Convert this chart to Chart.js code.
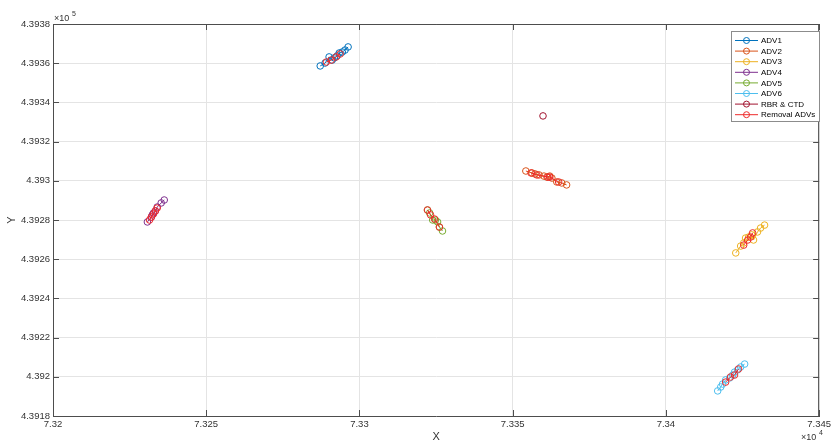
<!DOCTYPE html>
<html>
<head>
<meta charset="utf-8">
<script src="https://cdn.jsdelivr.net/npm/chart.js@4/dist/chart.umd.min.js"></script>
<style>
  body { margin: 0; background: #fff; }
  canvas { display: block; }
</style>
</head>
<body>
<canvas id="cha" width="834" height="441"></canvas>
<script>
// tick labels (values are shown divided by 1e4 / 1e5)
const xTickLabels = ['7.32', '7.325', '7.33', '7.335', '7.34', '7.345'];
const yTickLabels = ['4.3918', '4.392', '4.3922', '4.3924', '4.3926', '4.3928', '4.393', '4.3932', '4.3934', '4.3936', '4.3938'];

const seriesNames = ['ADV1', 'ADV2', 'ADV3', 'ADV4', 'ADV5', 'ADV6', 'RBR & CTD', 'Removal ADVs'];
const seriesColors = ['#0072BD', '#D95319', '#EDB120', '#7E2F8E', '#77AC30', '#4DBEEE', '#A2142F', '#EE2A2A'];

// [x, y] positions
const adv1 = [[73287.2, 439358.6], [73288.8, 439360.1], [73290.1, 439363.2], [73291.1, 439361.6], [73291.8, 439362.7],
  [73292.7, 439363.7], [73293.4, 439365.2], [73294.4, 439365.7], [73295.3, 439366.7], [73296.3, 439368.3]];
const adv2 = [[73354.3, 439305.0], [73356.3, 439304.0], [73357.3, 439303.5], [73358.6, 439303.0], [73360.2, 439302.4],
  [73361.2, 439301.9], [73362.1, 439302.4], [73362.8, 439301.4], [73364.4, 439299.4], [73366.0, 439298.9], [73367.6, 439297.9]];
const adv3 = [[73422.8, 439263.2], [73424.4, 439266.7], [73425.4, 439268.3], [73426.0, 439270.8], [73427.0, 439271.3],
  [73428.0, 439272.4], [73428.6, 439269.8], [73429.9, 439273.9], [73430.9, 439275.9], [73432.2, 439277.4]];
const adv4 = [[73230.8, 439279.0], [73232.1, 439281.5], [73232.4, 439282.6], [73232.8, 439283.6], [73233.4, 439284.6],
  [73234.0, 439286.6], [73235.3, 439288.7], [73236.3, 439290.2]];
const adv5 = [[73322.2, 439285.1], [73322.9, 439283.6], [73323.9, 439280.0], [73324.8, 439280.0], [73325.5, 439279.0],
  [73326.1, 439276.4], [73327.1, 439274.4]];
const adv6 = [[73416.9, 439192.8], [73417.9, 439194.8], [73418.5, 439196.3], [73419.5, 439198.4], [73420.8, 439199.4],
  [73421.8, 439200.9], [73422.4, 439202.4], [73423.4, 439203.5], [73424.4, 439205.0], [73425.7, 439206.5]];
const rbrCtd = [[73359.9, 439333.1]];
// null = break in the line between sites
const removalAdvs = [[73289.2, 439360.6], [73290.8, 439361.6], [73292.4, 439363.2], [73293.7, 439364.7], null,
  [73231.5, 439280.0], [73232.1, 439281.5], [73232.8, 439283.1], [73233.4, 439284.6], [73234.0, 439286.1], null,
  [73322.2, 439285.1], [73323.2, 439282.6], [73324.5, 439280.5], [73326.1, 439276.4], null,
  [73356.0, 439304.0], [73357.9, 439303.0], [73361.5, 439301.9], [73362.1, 439301.9], [73365.0, 439299.4], null,
  [73425.4, 439267.2], [73426.7, 439269.8], [73427.6, 439271.3], [73428.3, 439273.4], null,
  [73419.5, 439197.3], [73421.1, 439199.9], [73422.4, 439200.9], [73423.7, 439204.0]];

const seriesData = [adv1, adv2, adv3, adv4, adv5, adv6, rbrCtd, removalAdvs];

const toPoints = arr => arr.map(p => p ? { x: p[0], y: p[1] } : { x: null, y: null });

const datasets = seriesNames.map((name, i) => ({
  label: name,
  data: toPoints(seriesData[i]),
  showLine: true,
  spanGaps: false,
  borderColor: seriesColors[i],
  borderWidth: 1,
  pointRadius: 3.3,
  pointBorderWidth: 1,
  pointBackgroundColor: 'rgba(0,0,0,0)',
  pointBorderColor: seriesColors[i],
  order: i === 7 ? 1 : (i === 6 ? 2 : 10),
}));

const axisColor = '#4d4d4d';
const fontFam = '"Liberation Sans", Arial, Helvetica, sans-serif';

// frame, inward ticks, exponents and legend like matlab
const matlabBits = {
  id: 'matlabBits',
  afterDraw(chart) {
    const ctx = chart.ctx;
    const a = chart.chartArea;
    const xs = chart.scales.x, ys = chart.scales.y;
    ctx.save();
    ctx.strokeStyle = axisColor;
    ctx.lineWidth = 1;
    ctx.beginPath();
    ctx.moveTo(a.left, a.top + 0.5); ctx.lineTo(a.right, a.top + 0.5);
    ctx.moveTo(a.right - 0.5, a.top); ctx.lineTo(a.right - 0.5, a.bottom);
    xs.ticks.forEach(t => {
      const px = Math.round(xs.getPixelForValue(t.value)) + 0.5;
      ctx.moveTo(px, a.bottom); ctx.lineTo(px, a.bottom - 6);
      ctx.moveTo(px, a.top); ctx.lineTo(px, a.top + 6);
    });
    ys.ticks.forEach(t => {
      const py = Math.round(ys.getPixelForValue(t.value)) + 0.5;
      ctx.moveTo(a.left, py); ctx.lineTo(a.left + 6, py);
      ctx.moveTo(a.right, py); ctx.lineTo(a.right - 6, py);
    });
    ctx.stroke();

    // exponent labels
    ctx.fillStyle = '#333';
    ctx.textBaseline = 'alphabetic';
    ctx.textAlign = 'left';
    ctx.font = '9px ' + fontFam;
    ctx.fillText('\u00d710', a.left + 1, a.top - 3);
    ctx.fillText('\u00d710', a.right - 18, 441 - 1);
    ctx.font = '7px ' + fontFam;
    ctx.fillText('5', a.left + 19, a.top - 8);
    ctx.fillText('4', a.right, 441 - 6);

    // legend box
    const bx = 731.5, by = 31.5, bw = 88, bh = 90;
    ctx.fillStyle = '#fff';
    ctx.fillRect(bx, by, bw, bh);
    ctx.strokeStyle = '#8c8c8c';
    ctx.strokeRect(bx, by, bw, bh);
    ctx.font = '8px ' + fontFam;
    ctx.textBaseline = 'middle';
    seriesNames.forEach((name, i) => {
      const yy = 40.5 + i * 10.6;
      ctx.strokeStyle = seriesColors[i];
      ctx.beginPath();
      ctx.moveTo(735, yy); ctx.lineTo(758, yy);
      ctx.stroke();
      ctx.beginPath();
      ctx.arc(746.5, yy, 3, 0, Math.PI * 2);
      ctx.stroke();
      ctx.fillStyle = '#000';
      ctx.fillText(name, 761, yy + 0.5);
    });
    ctx.restore();
  }
};

const chart = new Chart(document.getElementById('cha'), {
  type: 'scatter',
  data: { datasets: datasets },
  plugins: [matlabBits],
  options: {
    responsive: false,
    animation: false,
    devicePixelRatio: 1,
    layout: { padding: { top: 24, right: 10, left: 0, bottom: 0 } },
    plugins: {
      legend: { display: false },
      tooltip: { enabled: false },
    },
    scales: {
      x: {
        type: 'linear',
        min: 73200,
        max: 73450,
        afterFit: s => { s.height = 25; },
        ticks: {
          stepSize: 50,
          maxRotation: 0,
          padding: 3,
          color: '#333',
          font: { size: 9.5, family: fontFam },
          callback: (v, i) => xTickLabels[i],
        },
        grid: { color: '#e4e4e4', drawTicks: false },
        border: { color: axisColor, width: 1 },
        title: {
          display: true,
          text: 'X',
          color: '#333',
          font: { size: 11, family: fontFam, lineHeight: 1 },
          padding: { top: 0, bottom: -1 },
        },
      },
      y: {
        type: 'linear',
        min: 439180,
        max: 439380,
        afterFit: s => { s.width = 53; },
        ticks: {
          stepSize: 20,
          padding: 3,
          color: '#333',
          font: { size: 9.5, family: fontFam },
          callback: (v, i) => yTickLabels[i],
        },
        grid: { color: '#e4e4e4', drawTicks: false },
        border: { color: axisColor, width: 1 },
        title: {
          display: true,
          text: 'Y',
          color: '#333',
          font: { size: 11, family: fontFam, lineHeight: 1 },
          padding: { top: 6, bottom: 0 },
        },
      },
    },
  },
});
</script>
</body>
</html>
